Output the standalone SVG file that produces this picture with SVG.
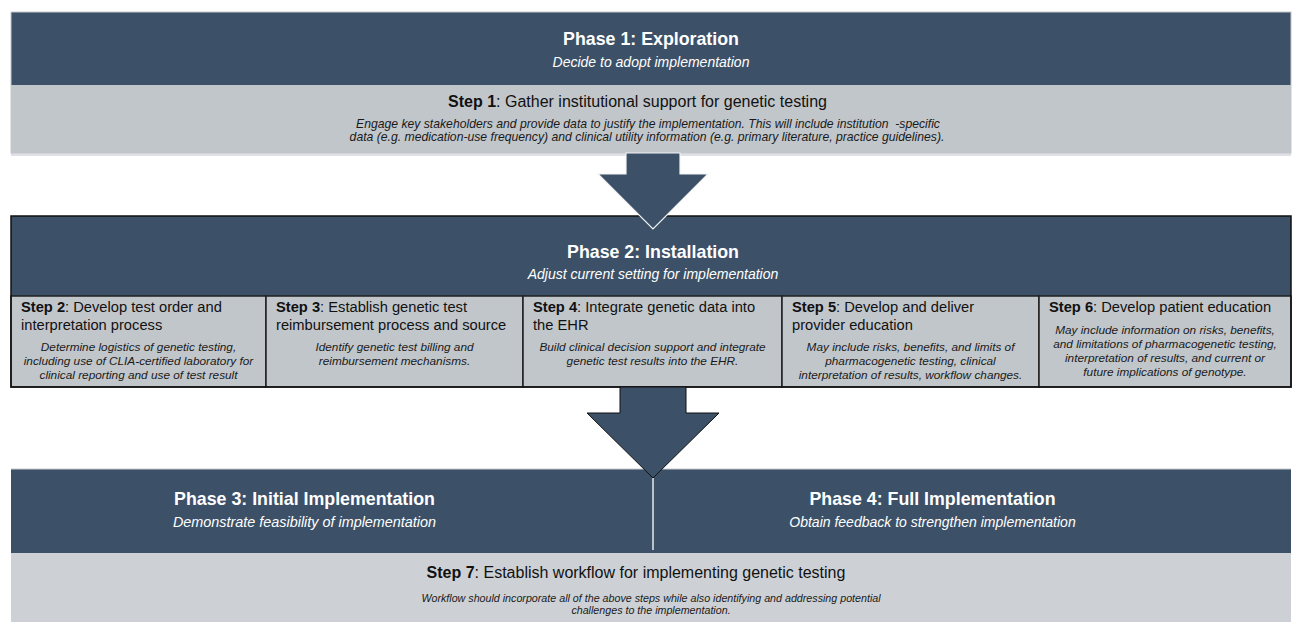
<svg xmlns="http://www.w3.org/2000/svg" width="1294" height="622" viewBox="0 0 1294 622">
<style>
text{font-family:"Liberation Sans",Arial,sans-serif;}
.navy{fill:#3c5168;}
.ptitle{font-size:17.8px;font-weight:bold;fill:#ffffff;text-anchor:middle;}
.psub{font-size:14px;font-style:italic;fill:#ffffff;text-anchor:middle;}
.stitle{font-size:14.7px;fill:#111111;}
.bigstep{font-size:16px;fill:#111111;text-anchor:middle;}
.b{font-weight:bold;}
.desc{font-size:11.8px;font-style:italic;fill:#1a1a1a;text-anchor:middle;}
.desc1{font-size:12.2px;font-style:italic;fill:#1a1a1a;text-anchor:middle;}
.desc7{font-size:10.7px;font-style:italic;fill:#1a1a1a;text-anchor:middle;}
.stepbox{fill:#c1c6cb;stroke:#1f1f1f;stroke-width:1.5;}
</style>
<rect x="0" y="0" width="1294" height="622" fill="#ffffff"/>

<g id="phase1">
<rect x="11" y="12" width="1280" height="73" class="navy"/>
<rect x="11" y="85" width="1280" height="68" fill="#c1c6cb"/>
<rect x="11" y="153" width="1280" height="3" fill="#dfe1e4"/>
<rect x="11" y="12" width="1280" height="141" fill="none" stroke="#c3c7cc" stroke-width="1"/>
<text x="651" y="45" class="ptitle">Phase 1: Exploration</text>
<text x="651" y="67" class="psub">Decide to adopt implementation</text>
<text x="637.5" y="107" class="bigstep"><tspan class="b">Step 1</tspan>: Gather institutional support for genetic testing</text>
<text x="648" y="128" class="desc1" xml:space="preserve">Engage key stakeholders and provide data to justify the implementation. This will include institution  -specific</text>
<text x="647" y="141" class="desc1">data (e.g. medication-use frequency) and clinical utility information (e.g. primary literature, practice guidelines).</text>
</g>

<g id="phase2">
<rect x="11" y="216" width="1280" height="80" class="navy"/>
<text x="653" y="258" class="ptitle">Phase 2: Installation</text>
<text x="653" y="279" class="psub">Adjust current setting for implementation</text>
</g>

<g id="step2">
<rect x="11" y="296" width="255" height="91" class="stepbox"/>
<text x="21" y="312" class="stitle"><tspan class="b">Step 2</tspan>: Develop test order and</text>
<text x="21" y="330" class="stitle">interpretation process</text>
<text x="138.5" y="351" class="desc">Determine logistics of genetic testing,</text>
<text x="138.5" y="365" class="desc">including use of CLIA-certified laboratory for</text>
<text x="138.5" y="379" class="desc">clinical reporting and use of test result</text>
</g>

<g id="step3">
<rect x="266" y="296" width="257" height="91" class="stepbox"/>
<text x="276" y="312" class="stitle"><tspan class="b">Step 3</tspan>: Establish genetic test</text>
<text x="276" y="330" class="stitle">reimbursement process and source</text>
<text x="394.5" y="351" class="desc">Identify genetic test billing and</text>
<text x="394.5" y="365" class="desc">reimbursement mechanisms.</text>
</g>

<g id="step4">
<rect x="523" y="296" width="259" height="91" class="stepbox"/>
<text x="533" y="312" class="stitle"><tspan class="b">Step 4</tspan>: Integrate genetic data into</text>
<text x="533" y="330" class="stitle">the EHR</text>
<text x="652.5" y="351" class="desc">Build clinical decision support and integrate</text>
<text x="652.5" y="365" class="desc">genetic test results into the EHR.</text>
</g>

<g id="step5">
<rect x="782" y="296" width="257" height="91" class="stepbox"/>
<text x="792" y="312" class="stitle"><tspan class="b">Step 5</tspan>: Develop and deliver</text>
<text x="792" y="330" class="stitle">provider education</text>
<text x="910.5" y="351" class="desc">May include risks, benefits, and limits of</text>
<text x="910.5" y="365" class="desc">pharmacogenetic testing, clinical</text>
<text x="910.5" y="379" class="desc">interpretation of results, workflow changes.</text>
</g>

<g id="step6">
<rect x="1039" y="296" width="252" height="91" class="stepbox"/>
<text x="1049" y="312" class="stitle"><tspan class="b">Step 6</tspan>: Develop patient education</text>
<text x="1165" y="334" class="desc">May include information on risks, benefits,</text>
<text x="1165" y="348" class="desc">and limitations of pharmacogenetic testing,</text>
<text x="1165" y="362" class="desc">interpretation of results, and current or</text>
<text x="1165" y="376" class="desc">future implications of genotype.</text>
</g>

<rect x="11" y="216" width="1280" height="171" fill="none" stroke="#111111" stroke-width="1.5"/>

<g id="phase34">
<rect x="11" y="469" width="1280" height="84" class="navy"/>
<rect x="11" y="553" width="1280" height="69" fill="#cdd1d5"/>
<line x1="11" y1="469" x2="1291" y2="469" stroke="#c9ccd1" stroke-width="1.2"/>
<text x="304.5" y="505" class="ptitle">Phase 3: Initial Implementation</text>
<text x="304.5" y="527" class="psub" style="font-size:14.4px">Demonstrate feasibility of implementation</text>
<text x="932.5" y="505" class="ptitle">Phase 4: Full Implementation</text>
<text x="932.5" y="527" class="psub">Obtain feedback to strengthen implementation</text>
<text x="636" y="578" class="bigstep"><tspan class="b">Step 7</tspan>: Establish workflow for implementing genetic testing</text>
<text x="651" y="602" class="desc7">Workflow should incorporate all of the above steps while also identifying and addressing potential</text>
<text x="651" y="614" class="desc7">challenges to the implementation.</text>
</g>

<g id="connectors">
<polygon points="626,153 680,153 680,174 708,174 653,229 598,174 626,174" class="navy" stroke="#f2f3f4" stroke-width="1.2"/>
<polygon points="620,387 686,387 686,413 719,413 653,478 587,413 620,413" class="navy" stroke="#111111" stroke-width="1"/>
<line x1="653" y1="478" x2="653" y2="550" stroke="#e6e8ea" stroke-width="1.5"/>
</g>
</svg>
